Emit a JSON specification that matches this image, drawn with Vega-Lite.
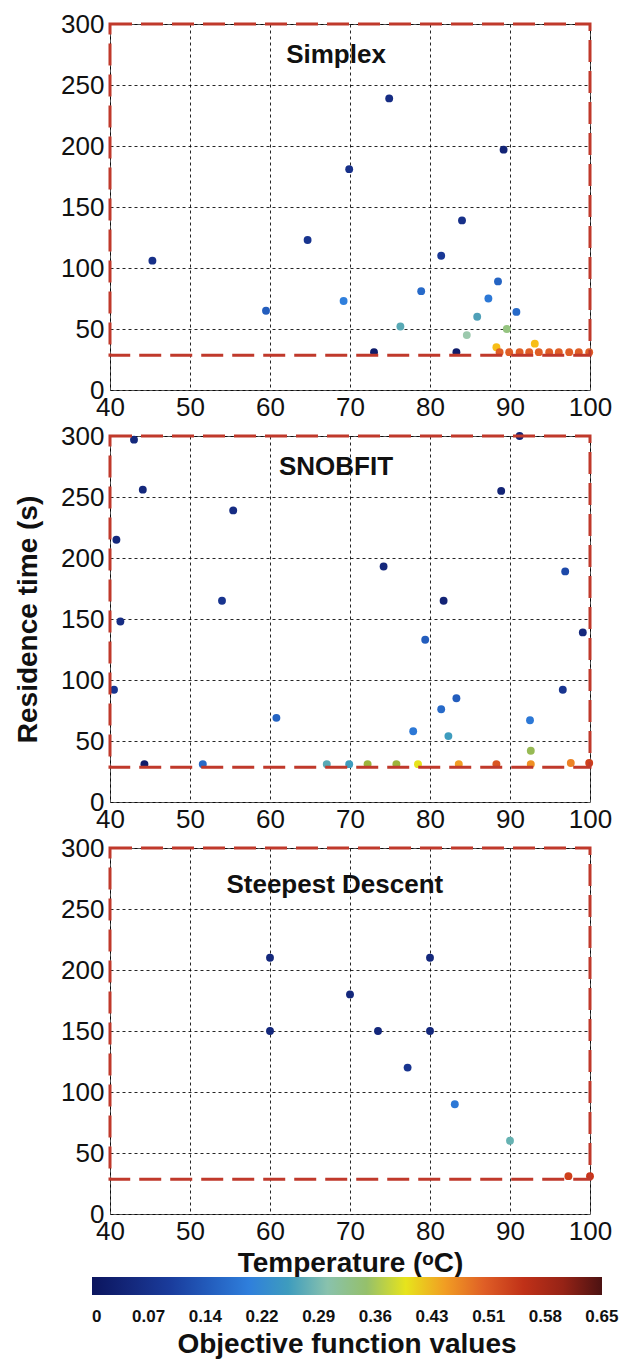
{
  "$schema": "https://vega.github.io/schema/vega-lite/v6.json",
  "padding": {"left": 14, "top": 10, "right": 0, "bottom": 0},
  "background": "white",
  "bounds": "flush",
  "spacing": 46,
  "config": {
    "view": {"stroke": "#555", "strokeWidth": 1},
    "axis": {
      "labelFont": "Liberation Sans", "labelFontSize": 26, "labelColor": "#111",
      "titleFont": "Liberation Sans", "titleFontSize": 28, "titleFontWeight": "bold", "titleColor": "#111",
      "grid": true, "gridColor": "#000", "gridDash": [3, 3], "gridWidth": 1, "gridOpacity": 0.85,
      "ticks": false, "domain": false, "labelFlush": false
    },
    "text": {"font": "Liberation Sans"}
  },
  "datasets": {
    "simplex": [
      {"temperature": 45.3, "residence": 106, "objective": 0.07},
      {"temperature": 74.9, "residence": 239, "objective": 0.06},
      {"temperature": 89.2, "residence": 197, "objective": 0.04},
      {"temperature": 69.9, "residence": 181, "objective": 0.07},
      {"temperature": 84.0, "residence": 139, "objective": 0.07},
      {"temperature": 64.7, "residence": 123, "objective": 0.08},
      {"temperature": 81.4, "residence": 110, "objective": 0.09},
      {"temperature": 59.5, "residence": 65, "objective": 0.15},
      {"temperature": 69.2, "residence": 73, "objective": 0.2},
      {"temperature": 78.9, "residence": 81, "objective": 0.17},
      {"temperature": 88.5, "residence": 89, "objective": 0.16},
      {"temperature": 87.3, "residence": 75, "objective": 0.19},
      {"temperature": 90.8, "residence": 64, "objective": 0.17},
      {"temperature": 85.9, "residence": 60, "objective": 0.26},
      {"temperature": 76.3, "residence": 52, "objective": 0.27},
      {"temperature": 84.6, "residence": 45, "objective": 0.31},
      {"temperature": 89.6, "residence": 50, "objective": 0.34},
      {"temperature": 88.3, "residence": 35, "objective": 0.43},
      {"temperature": 93.1, "residence": 38, "objective": 0.43},
      {"temperature": 73.0, "residence": 31, "objective": 0.02},
      {"temperature": 83.3, "residence": 31, "objective": 0.02},
      {"temperature": 88.7, "residence": 31, "objective": 0.5},
      {"temperature": 89.9, "residence": 31, "objective": 0.5},
      {"temperature": 91.2, "residence": 31, "objective": 0.5},
      {"temperature": 92.4, "residence": 31, "objective": 0.5},
      {"temperature": 93.6, "residence": 31, "objective": 0.5},
      {"temperature": 94.9, "residence": 31, "objective": 0.5},
      {"temperature": 96.1, "residence": 31, "objective": 0.5},
      {"temperature": 97.4, "residence": 31, "objective": 0.5},
      {"temperature": 98.6, "residence": 31, "objective": 0.5},
      {"temperature": 99.9, "residence": 31, "objective": 0.5}
    ],
    "snobfit": [
      {"temperature": 43.0, "residence": 297, "objective": 0.05},
      {"temperature": 44.1, "residence": 256, "objective": 0.05},
      {"temperature": 40.8, "residence": 215, "objective": 0.05},
      {"temperature": 41.3, "residence": 148, "objective": 0.06},
      {"temperature": 40.5, "residence": 92, "objective": 0.08},
      {"temperature": 44.3, "residence": 31, "objective": 0.02},
      {"temperature": 55.4, "residence": 239, "objective": 0.06},
      {"temperature": 54.0, "residence": 165, "objective": 0.08},
      {"temperature": 74.2, "residence": 193, "objective": 0.05},
      {"temperature": 81.7, "residence": 165, "objective": 0.04},
      {"temperature": 88.9, "residence": 255, "objective": 0.04},
      {"temperature": 91.2, "residence": 300, "objective": 0.04},
      {"temperature": 99.1, "residence": 139, "objective": 0.05},
      {"temperature": 96.6, "residence": 92, "objective": 0.08},
      {"temperature": 96.9, "residence": 189, "objective": 0.12},
      {"temperature": 60.8, "residence": 69, "objective": 0.16},
      {"temperature": 51.6, "residence": 31, "objective": 0.17},
      {"temperature": 79.4, "residence": 133, "objective": 0.15},
      {"temperature": 81.4, "residence": 76, "objective": 0.17},
      {"temperature": 83.3, "residence": 85, "objective": 0.15},
      {"temperature": 77.9, "residence": 58, "objective": 0.19},
      {"temperature": 82.3, "residence": 54, "objective": 0.25},
      {"temperature": 92.5, "residence": 67, "objective": 0.19},
      {"temperature": 92.6, "residence": 42, "objective": 0.36},
      {"temperature": 67.1, "residence": 31, "objective": 0.27},
      {"temperature": 69.9, "residence": 31, "objective": 0.25},
      {"temperature": 72.2, "residence": 31, "objective": 0.37},
      {"temperature": 75.8, "residence": 31, "objective": 0.37},
      {"temperature": 78.5, "residence": 31, "objective": 0.4},
      {"temperature": 83.6, "residence": 31, "objective": 0.45},
      {"temperature": 88.3, "residence": 31, "objective": 0.51},
      {"temperature": 92.6, "residence": 31, "objective": 0.46},
      {"temperature": 97.6, "residence": 32, "objective": 0.47},
      {"temperature": 99.9, "residence": 32, "objective": 0.53}
    ],
    "steepest": [
      {"temperature": 60.0, "residence": 210, "objective": 0.05},
      {"temperature": 60.0, "residence": 150, "objective": 0.05},
      {"temperature": 70.0, "residence": 180, "objective": 0.05},
      {"temperature": 73.5, "residence": 150, "objective": 0.05},
      {"temperature": 80.0, "residence": 210, "objective": 0.05},
      {"temperature": 80.0, "residence": 150, "objective": 0.05},
      {"temperature": 77.2, "residence": 120, "objective": 0.08},
      {"temperature": 83.1, "residence": 90, "objective": 0.19},
      {"temperature": 90.0, "residence": 60, "objective": 0.28},
      {"temperature": 97.3, "residence": 31, "objective": 0.53},
      {"temperature": 100.0, "residence": 31, "objective": 0.54}
    ],
    "bounds": [{"tmin": 40, "tmax": 100, "rmin": 28.5, "rmax": 300}]
  },
  "resolve": {"scale": {"color": "independent"}, "legend": {"color": "independent"}},
  "vconcat": [
    {
      "width": 480, "height": 366,
      "layer": [
        {
          "data": {"name": "simplex"},
          "mark": {"type": "circle", "size": 62, "opacity": 1},
          "encoding": {
            "x": {"field": "temperature", "type": "quantitative", "scale": {"domain": [40, 100], "nice": false}, "axis": {"values": [40, 50, 60, 70, 80, 90, 100], "title": null, "labelPadding": 4}},
            "y": {"field": "residence", "type": "quantitative", "scale": {"domain": [0, 300], "nice": false}, "axis": {"values": [0, 50, 100, 150, 200, 250, 300], "title": null, "labelPadding": 6}},
            "color": {"field": "objective", "type": "quantitative", "legend": null,
              "scale": {"type": "linear", "domain": [0, 0.1, 0.2, 0.26, 0.315, 0.37, 0.405, 0.445, 0.49, 0.54, 0.61, 0.65],
                "range": ["#0b155e", "#1a3c9c", "#2f7fdc", "#4fa0b8", "#a6ccae", "#9cb43a", "#f5ec10", "#f2a423", "#e4682a", "#c93418", "#8e2015", "#4c1212"]}}
          }
        },
        {
          "data": {"name": "bounds"},
          "mark": {"type": "rect", "filled": false, "stroke": "#c0392b", "strokeWidth": 3, "strokeDash": [22, 9]},
          "encoding": {
            "x": {"field": "tmin", "type": "quantitative"}, "x2": {"field": "tmax"},
            "y": {"field": "rmin", "type": "quantitative"}, "y2": {"field": "rmax"}
          }
        },
        {
          "data": {"values": [{"label": "Simplex"}]},
          "mark": {"type": "text", "fontSize": 26, "fontWeight": "bold", "font": "Liberation Sans", "color": "#111"},
          "encoding": {"x": {"datum": 68.25, "type": "quantitative"}, "y": {"datum": 275, "type": "quantitative"}, "text": {"field": "label"}}
        }
      ]
    },
    {
      "width": 480, "height": 366,
      "layer": [
        {
          "data": {"name": "snobfit"},
          "mark": {"type": "circle", "size": 62, "opacity": 1},
          "encoding": {
            "x": {"field": "temperature", "type": "quantitative", "scale": {"domain": [40, 100], "nice": false}, "axis": {"values": [40, 50, 60, 70, 80, 90, 100], "title": null, "labelPadding": 4}},
            "y": {"field": "residence", "type": "quantitative", "scale": {"domain": [0, 300], "nice": false}, "axis": {"values": [0, 50, 100, 150, 200, 250, 300], "title": "Residence time (s)", "titlePadding": 18, "labelPadding": 6}},
            "color": {"field": "objective", "type": "quantitative", "legend": null,
              "scale": {"type": "linear", "domain": [0, 0.1, 0.2, 0.26, 0.315, 0.37, 0.405, 0.445, 0.49, 0.54, 0.61, 0.65],
                "range": ["#0b155e", "#1a3c9c", "#2f7fdc", "#4fa0b8", "#a6ccae", "#9cb43a", "#f5ec10", "#f2a423", "#e4682a", "#c93418", "#8e2015", "#4c1212"]}}
          }
        },
        {
          "data": {"name": "bounds"},
          "mark": {"type": "rect", "filled": false, "stroke": "#c0392b", "strokeWidth": 3, "strokeDash": [22, 9]},
          "encoding": {
            "x": {"field": "tmin", "type": "quantitative"}, "x2": {"field": "tmax"},
            "y": {"field": "rmin", "type": "quantitative"}, "y2": {"field": "rmax"}
          }
        },
        {
          "data": {"values": [{"label": "SNOBFIT"}]},
          "mark": {"type": "text", "fontSize": 26, "fontWeight": "bold", "font": "Liberation Sans", "color": "#111"},
          "encoding": {"x": {"datum": 68.25, "type": "quantitative"}, "y": {"datum": 275, "type": "quantitative"}, "text": {"field": "label"}}
        }
      ]
    },
    {
      "width": 480, "height": 366,
      "layer": [
        {
          "data": {"name": "steepest"},
          "mark": {"type": "circle", "size": 62, "opacity": 1},
          "encoding": {
            "x": {"field": "temperature", "type": "quantitative", "scale": {"domain": [40, 100], "nice": false}, "axis": {"values": [40, 50, 60, 70, 80, 90, 100], "title": "Temperature (ᵒC)", "titlePadding": 5, "labelPadding": 4}},
            "y": {"field": "residence", "type": "quantitative", "scale": {"domain": [0, 300], "nice": false}, "axis": {"values": [0, 50, 100, 150, 200, 250, 300], "title": null, "labelPadding": 6}},
            "color": {"field": "objective", "type": "quantitative",
              "scale": {"type": "linear", "domain": [0, 0.1, 0.2, 0.26, 0.315, 0.37, 0.405, 0.445, 0.49, 0.54, 0.61, 0.65],
                "range": ["#0b155e", "#1a3c9c", "#2f7fdc", "#4fa0b8", "#a6ccae", "#9cb43a", "#f5ec10", "#f2a423", "#e4682a", "#c93418", "#8e2015", "#4c1212"]},
              "legend": {
                "orient": "none", "legendX": -18, "legendY": 429, "direction": "horizontal",
                "gradientLength": 510, "gradientThickness": 18, "gradientStrokeWidth": 0,
                "values": [0, 0.0722, 0.1444, 0.2167, 0.2889, 0.3611, 0.4333, 0.5056, 0.5778, 0.6499],
                "format": ".2~f", "labelOverlap": false,
                "labelFont": "Liberation Sans", "labelFontSize": 17, "labelFontWeight": "bold", "labelColor": "#111", "labelOffset": 14,
                "title": "Objective function values", "titleOrient": "bottom", "titleAnchor": "middle", "titleLimit": 700,
                "titleFont": "Liberation Sans", "titleFontSize": 28, "titleFontWeight": "bold", "titleColor": "#111", "titlePadding": 6
              }}
          }
        },
        {
          "data": {"name": "bounds"},
          "mark": {"type": "rect", "filled": false, "stroke": "#c0392b", "strokeWidth": 3, "strokeDash": [22, 9]},
          "encoding": {
            "x": {"field": "tmin", "type": "quantitative"}, "x2": {"field": "tmax"},
            "y": {"field": "rmin", "type": "quantitative"}, "y2": {"field": "rmax"}
          }
        },
        {
          "data": {"values": [{"label": "Steepest Descent"}]},
          "mark": {"type": "text", "fontSize": 26, "fontWeight": "bold", "font": "Liberation Sans", "color": "#111"},
          "encoding": {"x": {"datum": 68.1, "type": "quantitative"}, "y": {"datum": 270, "type": "quantitative"}, "text": {"field": "label"}}
        }
      ]
    }
  ]
}
